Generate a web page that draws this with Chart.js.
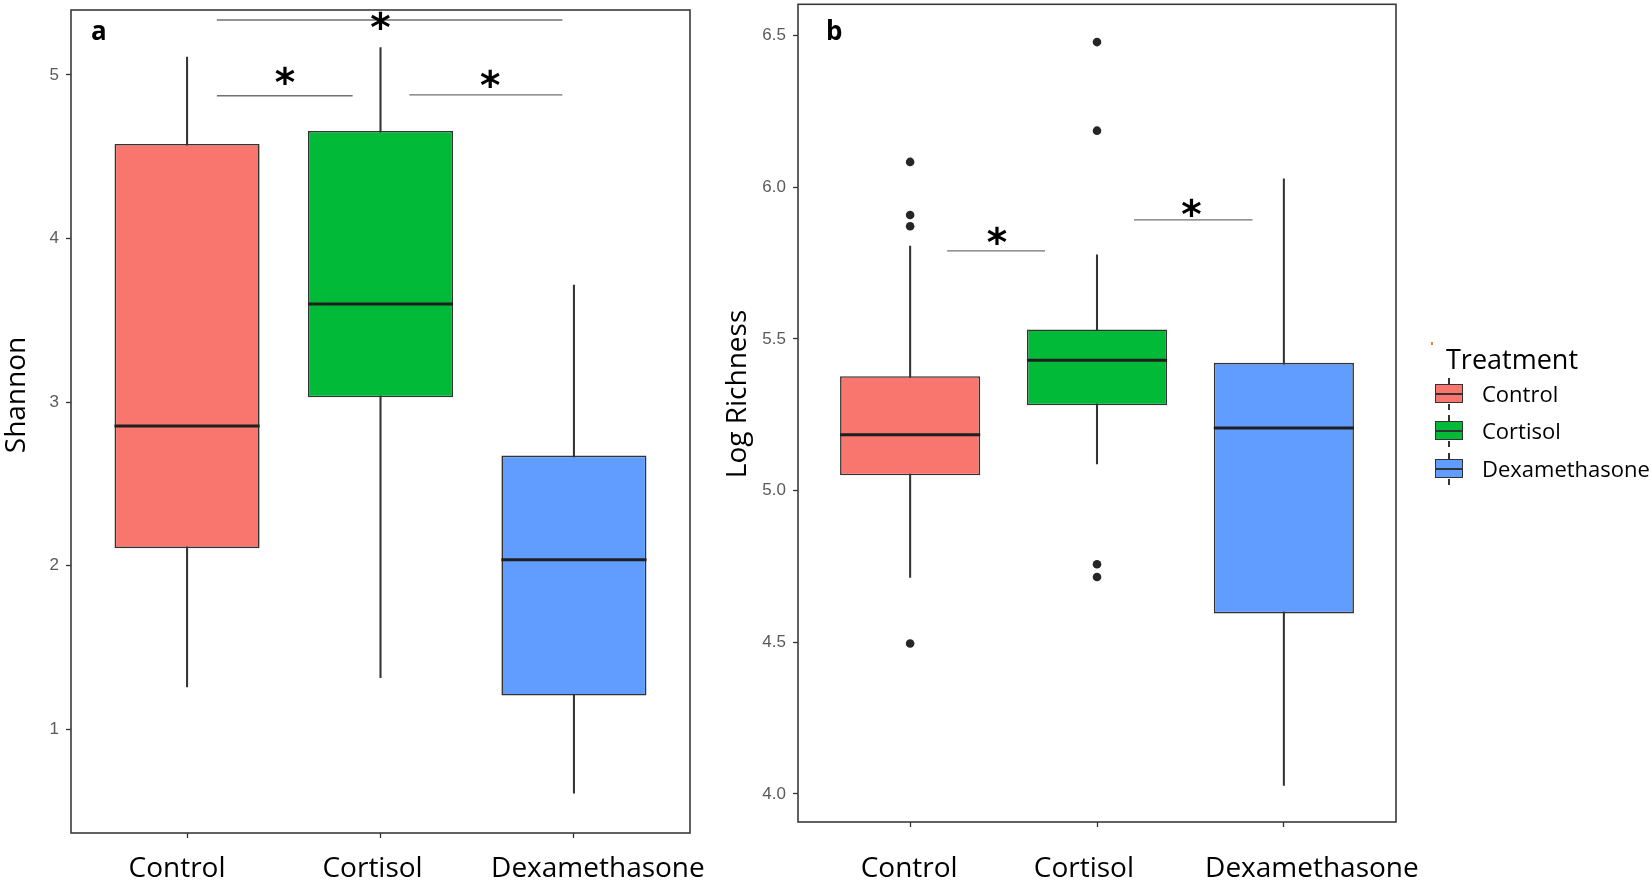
<!DOCTYPE html>
<html lang="en">
<head>
  <meta charset="UTF-8">
  <title>Shannon and Log Richness by Treatment</title>
  <script src="https://cdn.jsdelivr.net/npm/chart.js"></script>
  <style>
    html, body { margin: 0; padding: 0; background: #fff; }
    body { width: 1652px; height: 884px; position: relative; overflow: hidden; font-family: 'Open Sans', sans-serif; }
    #shannonChart { position: absolute; left: 0; top: 0; }
    #richnessChart { position: absolute; left: 700px; top: 0; }
    .chart-legend { position: absolute; left: 0; top: 0; }
    .legend-mark { position: absolute; left: 1431px; top: 342px; width: 2px; height: 3px; background: #d9892b; }
    .legend-title { position: absolute; left: 1446px; top: 345px; font-size: 27px; line-height: 27px; color: #000; white-space: nowrap; }
    .legend-item { position: absolute; left: 1435px; height: 19px; display: flex; align-items: center; font-size: 22px; line-height: 19px; white-space: nowrap; }
    .key { position: relative; width: 28px; height: 19px; box-sizing: border-box; border: 1.6px solid #333; }
    .key i { position: absolute; left: 0; right: 0; top: 50%; height: 2px; margin-top: -1px; background: #333; }
    .key::before, .key::after { content: ''; position: absolute; left: 50%; width: 1.4px; margin-left: -0.7px; height: 6px; background: #333; }
    .key::before { top: -7px; }
    .key::after { bottom: -8px; }
    .legend-item span.txt { margin-left: 19px; }
  </style>
</head>
<body>
  <canvas id="shannonChart" width="720" height="884"></canvas>
  <canvas id="richnessChart" width="740" height="884"></canvas>

  <div class="chart-legend">
    <span class="legend-mark"></span>
    <div class="legend-title">Treatment</div>
    <div class="legend-item" style="top:384px"><span class="key" style="background:#F8766D"><i></i></span><span class="txt">Control</span></div>
    <div class="legend-item" style="top:421px"><span class="key" style="background:#00BA38"><i></i></span><span class="txt">Cortisol</span></div>
    <div class="legend-item" style="top:459px"><span class="key" style="background:#619CFF"><i></i></span><span class="txt">Dexamethasone</span></div>
  </div>

  <script>
    const treatments = ['Control', 'Cortisol', 'Dexamethasone'];
    const fillColors = ['#F8766D', '#00BA38', '#619CFF'];

    // panel a: Shannon
    const shannonLow    = [1.26, 1.317, 0.61];
    const shannonQ1     = [2.108, 3.03, 1.207];
    const shannonMedian = [2.855, 3.60, 2.037];
    const shannonQ3     = [4.578, 4.658, 2.674];
    const shannonHigh   = [5.11, 5.167, 3.716];
    const shannonOutX   = [];
    const shannonOutY   = [];
    const shannonTicks  = [1, 2, 3, 4, 5];
    const shannonLabelPos = [0.948, 1.959, 3.124];   // where the category names sit
    const shannonSigFrom = [1.154, 1.154, 2.149];
    const shannonSigTo   = [2.94, 1.856, 2.94];
    const shannonSigY    = [5.336, 4.873, 4.878];
    const shannonStarX   = [2.0, 1.506, 2.567];
    const shannonStarY   = [5.33, 4.995, 4.977];

    // panel b: Log Richness
    const richLow    = [4.714, 5.088, 4.028];
    const richQ1     = [5.050, 5.281, 4.595];
    const richMedian = [5.184, 5.429, 5.206];
    const richQ3     = [5.377, 5.531, 5.421];
    const richHigh   = [5.806, 5.777, 6.027];
    const richOutX   = [1, 1, 1, 1, 2, 2, 2, 2];
    const richOutY   = [6.083, 5.908, 5.871, 4.496, 6.478, 6.186, 4.757, 4.715];
    const richTicks  = [4.0, 4.5, 5.0, 5.5, 6.0, 6.5];
    const richLabelPos = [0.995, 1.93, 3.15];
    const richSigFrom = [1.198, 2.198];
    const richSigTo   = [1.722, 2.832];
    const richSigY    = [5.790, 5.892];
    const richStarX   = [1.465, 2.505];
    const richStarY   = [5.839, 5.933];

    const BOX_WIDTH = 0.75;

    // frame, asterisks, panel letter and y title
    function decor(cfg) {
      return {
        id: 'decor',
        afterDatasetsDraw(chart) {
          const { ctx, chartArea: a, scales: { x, y } } = chart;
          ctx.save();
          ctx.strokeStyle = '#3a3a3a';
          ctx.lineWidth = 1.6;
          ctx.strokeRect(a.left, a.top, a.right - a.left, a.bottom - a.top);

          ctx.fillStyle = '#000';
          ctx.font = 'bold 40px "DejaVu Sans"';
          let m = ctx.measureText('*');
          const size = 40 * 19.5 / (m.actualBoundingBoxAscent + m.actualBoundingBoxDescent);
          ctx.font = 'bold ' + size + 'px "DejaVu Sans"';
          m = ctx.measureText('*');
          ctx.textAlign = 'center';
          ctx.textBaseline = 'alphabetic';
          cfg.starX.forEach((sx, i) => {
            const px = x.getPixelForValue(sx);
            const py = y.getPixelForValue(cfg.starY[i]);
            ctx.fillText('*', px, py + (m.actualBoundingBoxAscent - m.actualBoundingBoxDescent) / 2);
          });

          ctx.textAlign = 'left';
          ctx.font = 'bold 26px "Open Sans"';
          ctx.fillText(cfg.letter, cfg.letterX, 40);

          ctx.translate(cfg.titleX, cfg.titleY);
          ctx.rotate(-Math.PI / 2);
          ctx.textAlign = 'center';
          ctx.font = '28px "Open Sans"';
          ctx.fillText(cfg.title, 0, 0);
          ctx.restore();
        }
      };
    }

    function boxChart(id, cfg) {
      const pos = treatments.map((t, i) => i + 1);
      const datasets = [
        { type: 'bar', data: pos.map((x, i) => ({ x, y: [cfg.low[i], cfg.high[i]] })),
          backgroundColor: '#333', borderWidth: 0, barThickness: 1.4, grouped: false, order: 5 },
        { type: 'bar', data: pos.map((x, i) => ({ x, y: [cfg.q1[i], cfg.q3[i]] })),
          backgroundColor: fillColors, borderColor: '#333', borderWidth: 1.6, borderSkipped: false,
          barPercentage: BOX_WIDTH, categoryPercentage: 1, grouped: false, order: 4 },
        { type: 'scatter', data: pos.map((x, i) => ({ x, y: cfg.median[i] })),
          pointStyle: 'line', pointBorderWidth: 3, pointBorderColor: '#1f1f1f',
          pointRadius: c => {
            const s = c.chart.scales.x;
            return Math.abs(s.getPixelForValue(1 + BOX_WIDTH / 2) - s.getPixelForValue(1));
          }, order: 3 },
        { type: 'scatter', data: cfg.outX.map((x, i) => ({ x, y: cfg.outY[i] })),
          pointRadius: 4.3, pointBackgroundColor: '#262626', pointBorderWidth: 0, order: 2 }
      ];
      cfg.sigFrom.forEach((x0, i) => {
        datasets.push({ type: 'line', data: [{ x: x0, y: cfg.sigY[i] }, { x: cfg.sigTo[i], y: cfg.sigY[i] }],
          borderColor: '#707070', borderWidth: 1.3, pointRadius: 0, fill: false, order: 1 });
      });

      return new Chart(document.getElementById(id), {
        type: 'bar',
        data: { datasets },
        options: {
          responsive: false,
          animation: false,
          events: [],
          layout: { padding: cfg.padding },
          plugins: { legend: { display: false }, tooltip: { enabled: false } },
          scales: {
            // tick marks under each box
            x: {
              type: 'linear', min: 0.4, max: 3.6, offset: false, weight: 0,
              afterBuildTicks: s => { s.ticks = pos.map(v => ({ value: v })); },
              afterFit: s => { s.height = 5; s.paddingLeft = 0; s.paddingRight = 0; },
              ticks: { display: false },
              grid: { display: true, offset: false, drawOnChartArea: false, tickLength: 5, tickColor: '#333', tickWidth: 1.3 },
              border: { display: false }
            },
            // category names
            xl: {
              type: 'linear', position: 'bottom', min: 0.4, max: 3.6, offset: false, weight: 1,
              afterBuildTicks: s => { s.ticks = cfg.labelPos.map(v => ({ value: v })); },
              afterFit: s => { s.height = cfg.xAxisHeight - 5; s.paddingLeft = 0; s.paddingRight = 0; },
              ticks: { callback: (v, i) => treatments[i], font: { family: 'Open Sans', size: 28 }, color: '#000',
                       padding: cfg.xPad, maxRotation: 0, autoSkip: false },
              grid: { display: false, drawTicks: false },
              border: { display: false }
            },
            y: {
              type: 'linear', min: cfg.yMin, max: cfg.yMax, beginAtZero: false,
              afterBuildTicks: s => { s.ticks = cfg.ticks.map(v => ({ value: v })); },
              afterFit: s => { s.width = cfg.yAxisWidth; s.paddingTop = 0; s.paddingBottom = 0; },
              ticks: { callback: cfg.fmt, font: { family: 'Liberation Sans', size: 17 }, color: '#5a5a5a', padding: 7 },
              grid: { display: true, drawOnChartArea: false, tickLength: 5, tickColor: '#333', tickWidth: 1.3 },
              border: { display: false }
            }
          }
        },
        plugins: [decor(cfg)]
      });
    }

    boxChart('shannonChart', {
      low: shannonLow, q1: shannonQ1, median: shannonMedian, q3: shannonQ3, high: shannonHigh,
      outX: shannonOutX, outY: shannonOutY, ticks: shannonTicks, labelPos: shannonLabelPos,
      sigFrom: shannonSigFrom, sigTo: shannonSigTo, sigY: shannonSigY,
      starX: shannonStarX, starY: shannonStarY,
      yMin: 0.367, yMax: 5.397, fmt: v => String(v),
      padding: { left: 0, top: 10, right: 30, bottom: 0 },
      yAxisWidth: 71, xAxisHeight: 51, xPad: 14,
      letter: 'a', letterX: 91, title: 'Shannon', titleX: 25, titleY: 395
    });

    boxChart('richnessChart', {
      low: richLow, q1: richQ1, median: richMedian, q3: richQ3, high: richHigh,
      outX: richOutX, outY: richOutY, ticks: richTicks, labelPos: richLabelPos,
      sigFrom: richSigFrom, sigTo: richSigTo, sigY: richSigY,
      starX: richStarX, starY: richStarY,
      yMin: 3.9075, yMax: 6.6025, fmt: v => v.toFixed(1),
      padding: { left: 0, top: 3, right: 44, bottom: 0 },
      yAxisWidth: 98, xAxisHeight: 62, xPad: 25,
      letter: 'b', letterX: 126, title: 'Log Richness', titleX: 46, titleY: 394
    });
  </script>
</body>
</html>
